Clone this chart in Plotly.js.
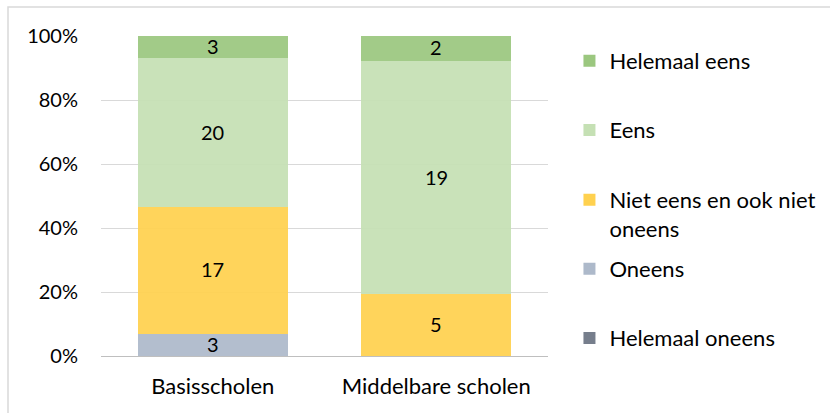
<!DOCTYPE html>
<html>
<head>
<meta charset="utf-8">
<script src="https://cdn.plot.ly/plotly-3.0.1.min.js"></script>
<style>html,body{margin:0;padding:0;background:#fff;}#chart{width:830px;height:413px;}</style>
</head>
<body>
<div id="chart"></div>
<script>
const categories = ["Basisscholen", "Middelbare scholen"];
const seriesNames = ["Helemaal oneens", "Oneens", "Niet eens en ook niet<br>oneens", "Eens", "Helemaal eens"];
const helemaalOneens = [0, 0];
const oneens = [3, 0];
const nietEens = [17, 5];
const eens = [20, 19];
const helemaalEens = [3, 2];
const tickVals = [0, 20, 40, 60, 80, 100];
const tickText = ["0%", "20%", "40%", "60%", "80%", "100%"];

const colors = ["rgb(118,126,140)", "rgb(173,185,202)", "rgb(255,209,79)", "rgb(197,224,180)", "rgb(155,199,127)"];
const values = [helemaalOneens, oneens, nietEens, eens, helemaalEens];
const FONT = "Lato, 'Open Sans', sans-serif";
const FS = 20;   // digits
const FS_TXT = 22; // words

// legend placement per series (paper y of legend centre)
const legendY = [0.056, 0.272, 0.442, 0.706, 0.922];
const legendX = 1.048;

const traces = values.map((v, i) => ({
  type: "bar",
  name: seriesNames[i],
  x: categories,
  y: v,
  marker: {color: colors[i], opacity: 0.93, line: {width: 0}},
  legend: i === 0 ? "legend" : "legend" + (i + 1),
  hoverinfo: "none"
}));

// value labels centred in each segment, computed from the data
const totals = categories.map((c, j) => values.reduce((s, arr) => s + arr[j], 0));
const annotations = [];
categories.forEach((c, j) => {
  let cum = 0;
  values.forEach((arr, i) => {
    const v = arr[j];
    if (v > 0) {
      const pct = v / totals[j] * 100;
      annotations.push({
        x: c, y: cum + pct / 2, xref: "x", yref: "y",
        text: String(v), showarrow: false,
        font: {family: FONT, size: FS, color: "#000"},
        yshift: 1
      });
      cum += pct;
    }
  });
});

const layout = {
  width: 830, height: 413,
  margin: {l: 101, r: 282, t: 36, b: 57, autoexpand: false},
  barmode: "stack",
  barnorm: "percent",
  bargap: 0.33,
  paper_bgcolor: "#fff",
  plot_bgcolor: "#fff",
  font: {family: FONT, size: FS, color: "#000"},
  xaxis: {
    type: "category",
    range: [-0.5, 1.5],
    showline: true, linecolor: "#bfbfbf", linewidth: 1,
    ticks: "", showgrid: false,
    ticklabelstandoff: 11,
    tickfont: {family: FONT, size: FS_TXT, color: "#000"},
    automargin: false
  },
  yaxis: {
    range: [0, 100],
    tickvals: tickVals, ticktext: tickText,
    showgrid: true, gridcolor: "#d9d9d9", gridwidth: 1,
    zeroline: false, showline: false, ticks: "",
    ticklabelstandoff: 22,
    tickfont: {family: FONT, size: FS, color: "#000"},
    automargin: false
  },
  showlegend: true,
  annotations: annotations,
  shapes: [{
    type: "rect", xref: "paper", yref: "paper",
    x0: (8 - 101) / 447, x1: (840 - 101) / 447,
    y0: -80 / 320, y1: 1 + (36 - 7) / 320,
    line: {color: "#d9d9d9", width: 1.5}, fillcolor: "rgba(0,0,0,0)", layer: "below"
  }]
};

values.forEach((v, i) => {
  const key = i === 0 ? "legend" : "legend" + (i + 1);
  layout[key] = {
    x: legendX, xanchor: "left",
    y: legendY[i], yanchor: "middle",
    valign: "top",
    itemwidth: 30,
    font: {family: FONT, size: FS_TXT, color: "#000"},
    bgcolor: "rgba(0,0,0,0)",
    borderwidth: 0
  };
});

Plotly.newPlot("chart", traces, layout, {staticPlot: true, displayModeBar: false});
</script>
</body>
</html>
